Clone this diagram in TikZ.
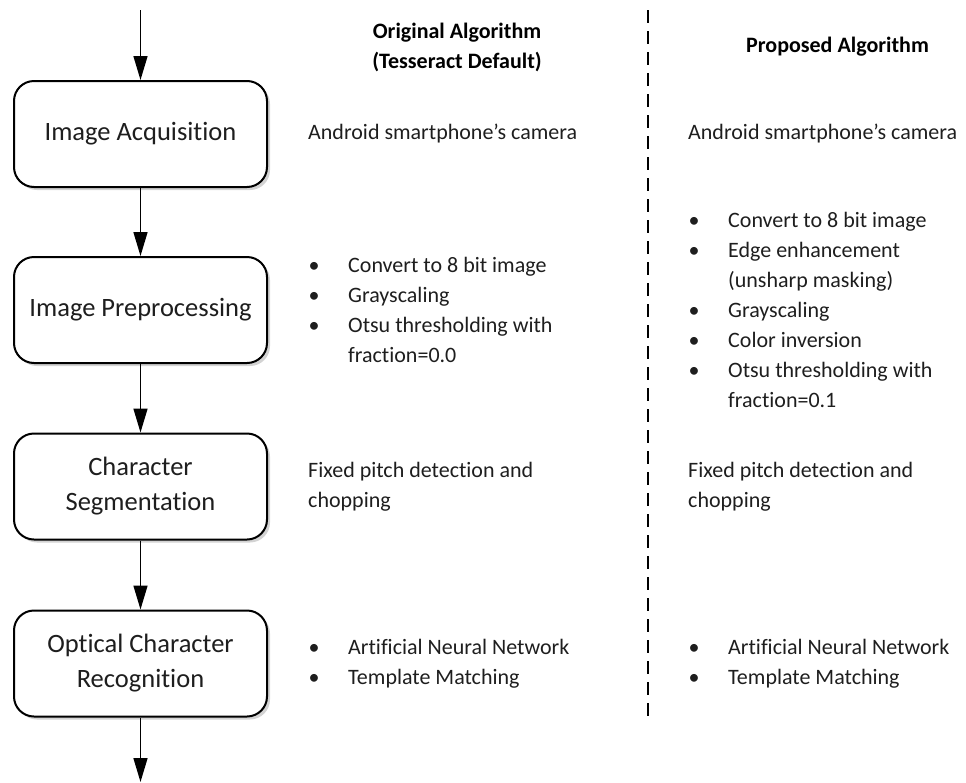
\documentclass[tikz,border=0pt]{standalone}
\usepackage{fontspec}
\setmainfont[RawFeature={-liga;-clig;-calt;-dlig}]{Carlito}
\usepackage{xcolor}
\usetikzlibrary{arrows.meta, positioning, shadows}
\definecolor{inkgray}{RGB}{30, 30, 30}
\newcommand{\bul}{\makebox[40pt][l]{\hspace*{0.5pt}\textbullet}}
\newcommand{\ind}{\hspace*{40pt}}

\begin{document}
\begin{tikzpicture}[
  x=1pt, y=-1pt,
  stage/.style={draw=black, fill=white, rounded corners=20pt,
                minimum width=253pt, minimum height=106pt,
                line width=2pt, align=center, text=inkgray,
                font=\fontsize{26.5}{35}\selectfont,
                drop shadow={shadow xshift=3pt, shadow yshift=-3pt,
                             opacity=0.35, fill=gray}},
  note/.style={anchor=west, align=left, inner sep=0pt, text=inkgray,
               font=\fontsize{22}{30}\selectfont},
  head/.style={align=center, inner sep=0pt, text=black,
               font=\fontsize{22}{30}\selectfont\bfseries},
  flow/.style={->, line width=1.5pt},
  sep/.style={line width=1.5pt, dash pattern=on 13pt off 8pt},
  >={Triangle[length=24pt, width=14pt]}
]
  \useasboundingbox (0,0) rectangle (966,782);

  \node[stage] (acq) at (140.5, 134)   {Image Acquisition};
  \node[stage] (pre) at (140.5, 310)   {Image Preprocessing};
  \node[stage] (seg) at (140.5, 486.5) {Character\\Segmentation};
  \node[stage] (ocr) at (140.5, 663.5) {Optical Character\\Recognition};

  \coordinate (in)  at (140.5, 10);
  \coordinate (out) at (140.5, 782);
  \draw[flow] (in)  -- (acq);
  \draw[flow] (acq) -- (pre);
  \draw[flow] (pre) -- (seg);
  \draw[flow] (seg) -- (ocr);
  \draw[flow] (ocr) -- (out);

  \coordinate (sepTop) at (648, 10);
  \coordinate (sepBot) at (648, 717);
  \draw[sep] (sepTop) -- (sepBot);

  \node[head] (origHead) at (457, 47)   {Original Algorithm\\(Tesseract Default)};
  \node[head] (propHead) at (837.5, 47) {Proposed Algorithm};

  % original column
  \node[note] (origAcq) at (308, 134)   {Android smartphone’s camera};
  \node[note] (origPre) at (308, 310)   {\bul Convert to 8 bit image\\
                                         \bul Grayscaling\\
                                         \bul Otsu thresholding with\\
                                         \ind fraction=0.0};
  \node[note] (origSeg) at (308, 486.5) {Fixed pitch detection and\\chopping};
  \node[note] (origOcr) at (308, 663.5) {\bul Artificial Neural Network\\
                                         \bul Template Matching};

  % proposed column
  \node[note] (propAcq) at (688, 134)   {Android smartphone’s camera};
  \node[note] (propPre) at (688, 310)   {\bul Convert to 8 bit image\\
                                         \bul Edge enhancement\\
                                         \ind (unsharp masking)\\
                                         \bul Grayscaling\\
                                         \bul Color inversion\\
                                         \bul Otsu thresholding with\\
                                         \ind fraction=0.1};
  \node[note] (propSeg) at (688, 486.5) {Fixed pitch detection and\\chopping};
  \node[note] (propOcr) at (688, 663.5) {\bul Artificial Neural Network\\
                                         \bul Template Matching};
\end{tikzpicture}
\end{document}
